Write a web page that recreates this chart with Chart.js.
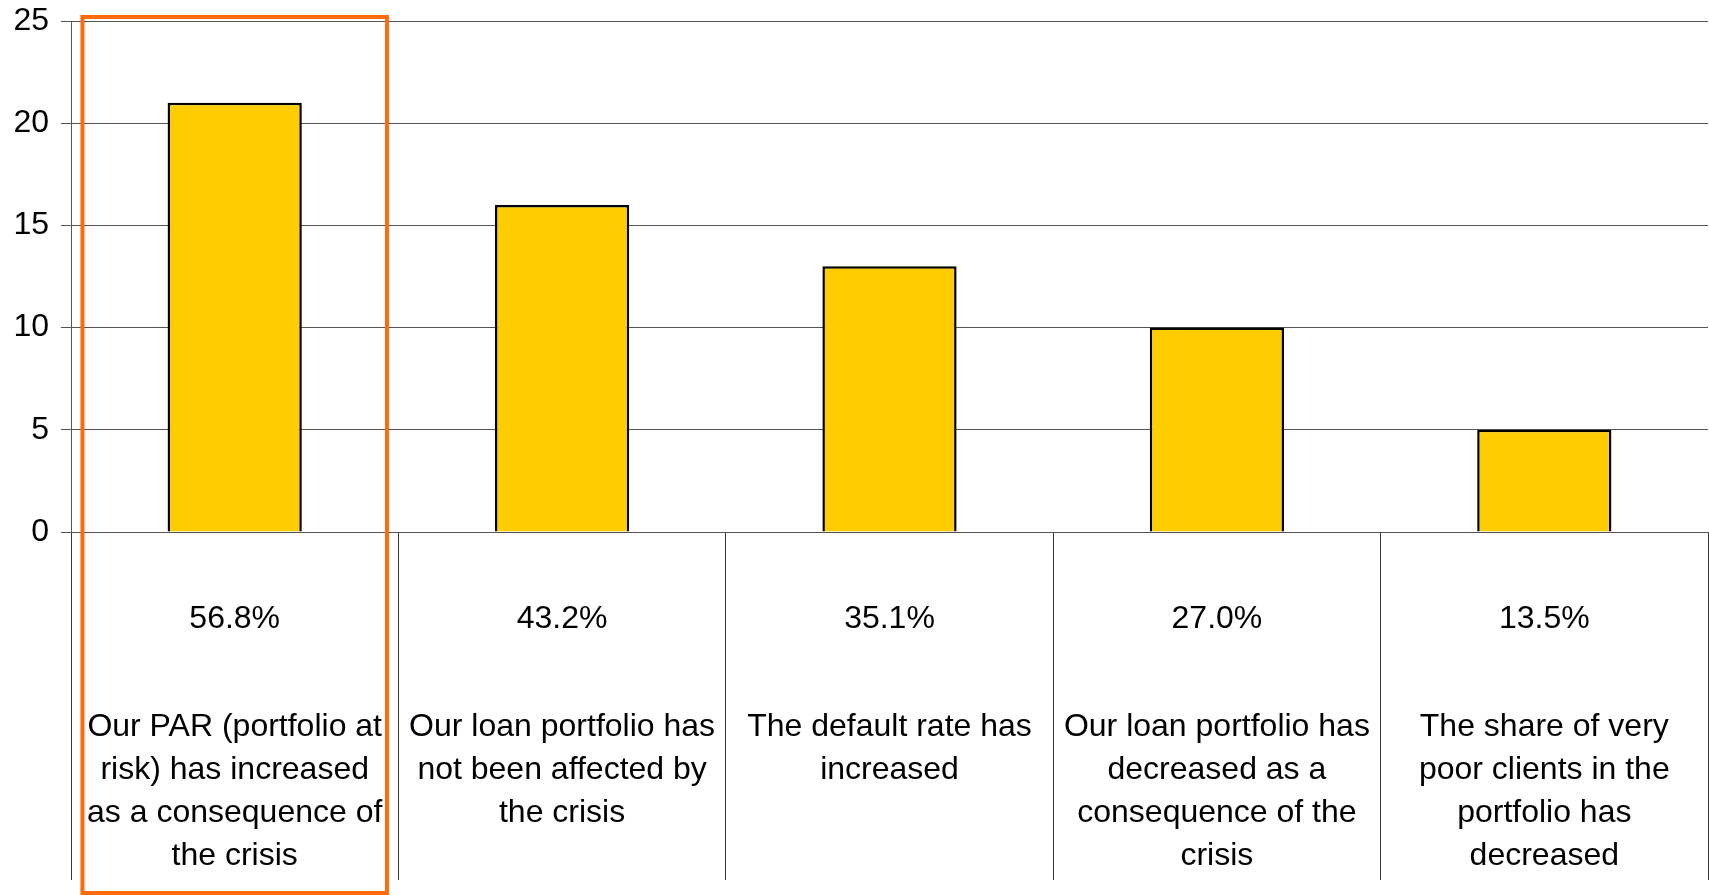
<!DOCTYPE html>
<html>
<head>
<meta charset="utf-8">
<script src="https://cdn.jsdelivr.net/npm/chart.js@4"></script>
<style>
  body { margin: 0; background: #ffffff; }
  #wrap { width: 1709px; height: 895px; }
</style>
</head>
<body>
<div id="wrap"><canvas id="chart" width="1709" height="895"></canvas></div>
<script>
const categories = [
    ['Our PAR (portfolio at', 'risk) has increased', 'as a consequence of', 'the crisis'],
    ['Our loan portfolio has', 'not been affected by', 'the crisis'],
    ['The default rate has', 'increased'],
    ['Our loan portfolio has', 'decreased as a', 'consequence of the', 'crisis'],
    ['The share of very', 'poor clients in the', 'portfolio has', 'decreased']
];
const counts = [21, 16, 13, 10, 5];
const respondents = 37;
const y_ticks = [0, 5, 10, 15, 20, 25];

const font_family = '"Liberation Sans", Arial, sans-serif';

// percentages under each bar + orange highlight box
const extraText = {
    id: 'extraText',
    afterDraw: (chart) => {
        const {ctx} = chart;
        const x = chart.scales.x;
        const y = chart.scales.y;
        ctx.save();
        ctx.font = '32px ' + font_family;
        ctx.fillStyle = '#000';
        ctx.textAlign = 'center';
        ctx.textBaseline = 'middle';
        counts.forEach((v, i) => {
            ctx.fillText((v / respondents * 100).toFixed(1) + '%', x.getPixelForValue(i), 619);
        });

        const cat_w = x.width / categories.length;
        const cx = x.getPixelForValue(0);
        const top = y.getPixelForValue(25) - 4;
        ctx.strokeStyle = '#ff6a0a';
        ctx.lineWidth = 4;
        ctx.strokeRect(cx - cat_w * 0.465, top, cat_w * 0.93, chart.height - 2 - top);
        ctx.restore();
    }
};

new Chart(document.getElementById('chart'), {
    type: 'bar',
    data: {
        labels: categories,
        datasets: [{
            data: counts,
            backgroundColor: '#ffcc00',
            borderColor: '#000000',
            borderWidth: 2.5,
            barPercentage: 0.41,
            categoryPercentage: 1
        }]
    },
    options: {
        responsive: false,
        animation: false,
        layout: {
            padding: { top: 21, right: 1, bottom: 0, left: 0 }
        },
        plugins: {
            legend: { display: false },
            tooltip: { enabled: false }
        },
        scales: {
            x: {
                grid: {
                    offset: true,
                    drawOnChartArea: false,
                    tickLength: 348,
                    color: '#333'
                },
                border: { color: '#555' },
                ticks: {
                    color: '#000',
                    padding: -174.5,
                    font: { family: font_family, size: 32, lineHeight: '43px' }
                },
                afterFit: (s) => { s.height = 363; }
            },
            y: {
                min: 0,
                max: 25,
                afterBuildTicks: (s) => { s.ticks = y_ticks.map(v => ({value: v})); },
                grid: {
                    color: '#555',
                    tickLength: 10
                },
                border: { color: '#555' },
                ticks: {
                    color: '#000',
                    padding: 12,
                    font: { family: font_family, size: 32 }
                },
                afterFit: (s) => {
                    s.width = 71;
                    s.paddingTop = 0;
                    s.paddingBottom = 0;
                }
            }
        }
    },
    plugins: [extraText]
});
</script>
</body>
</html>
